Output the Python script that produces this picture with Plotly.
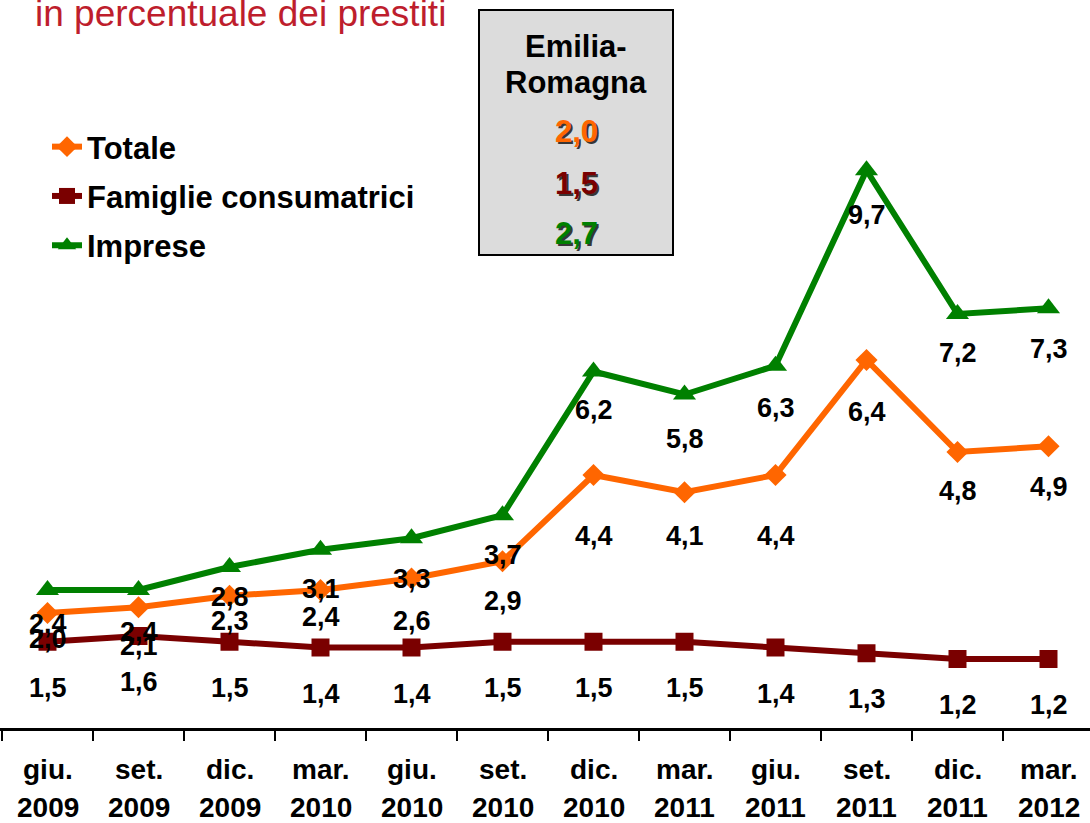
import plotly.graph_objects as go

# Periods (quarter-end months) on the category axis
months = ["giu.", "set.", "dic.", "mar.", "giu.", "set.", "dic.", "mar.", "giu.", "set.", "dic.", "mar."]
years = ["2009", "2009", "2009", "2010", "2010", "2010", "2010", "2011", "2011", "2011", "2011", "2012"]
categories = [f"{m} {y}" for m, y in zip(months, years)]

# Series values (percent of loans)
totale = [2.0, 2.1, 2.3, 2.4, 2.6, 2.9, 4.4, 4.1, 4.4, 6.4, 4.8, 4.9]
famiglie = [1.5, 1.6, 1.5, 1.4, 1.4, 1.5, 1.5, 1.5, 1.4, 1.3, 1.2, 1.2]
imprese = [2.4, 2.4, 2.8, 3.1, 3.3, 3.7, 6.2, 5.8, 6.3, 9.7, 7.2, 7.3]

# Regional reference values shown in the side box
regione = "Emilia-Romagna"
regione_valori = [2.0, 1.5, 2.7]

# Pixel offsets of the value labels below each point
off_totale = [26, 39, 25, 27, 42, 40, 61, 44, 61, 52, 39, 41]
off_imprese = [34, 42, 30, 39, 41, 40, 38, 44, 42, 45, 39, 41]
off_famiglie = [46] * 12

ORANGE = "#FF6600"
DARKRED = "#7A0000"
GREEN = "#008000"
FONT = "Liberation Sans, Arial, sans-serif"

W, H = 1090, 823
PLOT_BOTTOM = 728  # pixel row of the x axis


def fx(xpx):
    return xpx / W


def fy(ypx):
    return (PLOT_BOTTOM - ypx) / PLOT_BOTTOM


def fmt(v):
    return f"{v:.1f}".replace(".", ",")


fig = go.Figure()

series = [
    ("Totale", totale, ORANGE, "diamond", 17, off_totale),
    ("Famiglie consumatrici", famiglie, DARKRED, "square", 18, off_famiglie),
    ("Imprese", imprese, GREEN, "triangle-up", 20, off_imprese),
]

for i, (name, vals, col, sym, msize, _) in enumerate(series):
    fig.add_trace(go.Scatter(
        x=categories, y=vals, name=name, mode="lines+markers",
        line=dict(color=col, width=6),
        marker=dict(symbol=sym, size=msize, color=col),
        legendgroup=f"g{i}",
        hoverinfo="skip",
    ))

annotations = []
for name, vals, col, sym, msize, offs in series:
    for c, v, o in zip(categories, vals, offs):
        annotations.append(dict(
            x=c, y=v, xref="x", yref="y", text=fmt(v), showarrow=False,
            yshift=-o, yanchor="middle", xanchor="center",
            font=dict(family=FONT, size=27, color="black", weight="bold"),
        ))

# Two-row category labels below the axis
for c, m, y in zip(categories, months, years):
    annotations.append(dict(
        x=c, y=fy(769), xref="x", yref="paper", text=m, showarrow=False,
        yanchor="middle", xanchor="center",
        font=dict(family=FONT, size=28, color="black", weight="bold"),
    ))
    annotations.append(dict(
        x=c, y=fy(807), xref="x", yref="paper", text=y, showarrow=False,
        yanchor="middle", xanchor="center",
        font=dict(family=FONT, size=28, color="black", weight="bold"),
    ))

# Subtitle
annotations.append(dict(
    x=fx(33), y=fy(13), xref="paper", yref="paper", text="in percentuale dei prestiti",
    showarrow=False, xanchor="left", yanchor="middle",
    font=dict(family=FONT, size=37, color="#BE1E2D"),
))

# Regional box contents
bx = fx(576)
nome1, nome2 = regione.split("-")
box_font = dict(family=FONT, size=31, color="black", weight="bold")
annotations.append(dict(
    x=bx, y=fy(46), xref="paper", yref="paper", text=nome1 + "-", showarrow=False,
    xanchor="center", yanchor="middle", font=box_font,
))
annotations.append(dict(
    x=bx, y=fy(82), xref="paper", yref="paper", text=nome2, showarrow=False,
    xanchor="center", yanchor="middle", font=box_font,
))
for v, col, ypx in zip(regione_valori, [ORANGE, DARKRED, GREEN], [131, 183, 234]):
    annotations.append(dict(
        x=bx, y=fy(ypx), xref="paper", yref="paper", text=fmt(v), showarrow=False,
        xanchor="center", yanchor="middle",
        font=dict(family=FONT, size=31, color=col, weight="bold",
                  shadow="2px 2px 0px rgba(0,0,0,0.75)"),
    ))

fig.update_layout(
    width=W, height=H,
    margin=dict(l=0, r=0, t=0, b=H - PLOT_BOTTOM, pad=0),
    paper_bgcolor="white", plot_bgcolor="white",
    showlegend=True,
    legend=dict(
        x=fx(47), y=fy(120), xanchor="left", yanchor="top",
        font=dict(family=FONT, size=31, color="black", weight="bold"),
        bgcolor="rgba(0,0,0,0)", tracegroupgap=6, traceorder="grouped",
        itemsizing="trace",
    ),
    xaxis=dict(
        type="category", range=[-0.522, 11.456],
        showgrid=False, zeroline=False, showline=True, linecolor="black", linewidth=3,
        ticks="outside", tickson="boundaries", ticklen=10, tickwidth=1.5, tickcolor="black",
        showticklabels=False,
    ),
    yaxis=dict(
        range=[0, PLOT_BOTTOM / 57.5], visible=False, showgrid=False, zeroline=False,
    ),
    shapes=[dict(
        type="rect", xref="paper", yref="paper",
        x0=fx(479), x1=fx(673), y0=fy(255), y1=fy(10),
        fillcolor="#DCDCDC", line=dict(color="black", width=2), layer="below",
    )],
    annotations=annotations,
)

fig.write_html("out.html")
